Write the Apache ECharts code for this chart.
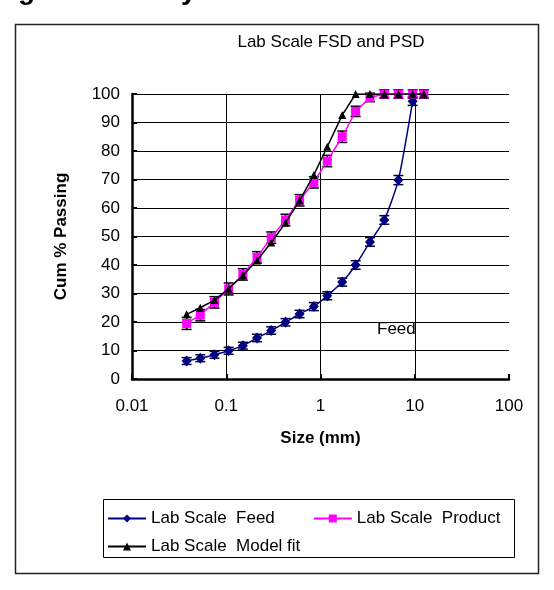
<!DOCTYPE html>
<html>
<head>
<meta charset="utf-8">
<script src="https://cdn.jsdelivr.net/npm/echarts@6/dist/echarts.min.js"></script>
<style>
  html, body { margin: 0; padding: 0; background: #fff; }
  #main { width: 554px; height: 590px; }
</style>
</head>
<body>
<div id="main"></div>
<script>
// sieve sizes (mm)
const sizes = [0.038, 0.053, 0.075, 0.106, 0.15, 0.212, 0.3, 0.425, 0.6, 0.85, 1.18, 1.7, 2.36, 3.35, 4.75, 6.7, 9.5, 12.5];
// cumulative % passing
const feedPassing = [6.3, 7.3, 8.5, 9.9, 11.7, 14.4, 17.0, 19.9, 22.8, 25.4, 29.2, 34.0, 40.0, 48.1, 55.8, 69.8, 97.5];
const productPassing = [19.5, 22.4, 26.9, 31.6, 36.7, 42.7, 49.6, 55.8, 62.7, 69.0, 76.5, 85.0, 93.9, 98.8, 100, 100, 100, 100];
const modelPassing = [22.7, 25.0, 27.7, 31.7, 36.3, 41.6, 47.9, 54.8, 62.6, 71.6, 81.5, 92.6, 100, 100, 100, 100, 100, 100];
// error bar half widths
const feedErr = [1.2, 1.2, 1.2, 1.2, 1.2, 1.3, 1.3, 1.3, 1.3, 1.4, 1.4, 1.4, 1.5, 1.5, 1.5, 1.6, 1.5];
const productErr = [2.1, 2.0, 2.0, 2.1, 2.0, 2.0, 2.0, 2.0, 2.0, 2.0, 2.0, 2.0, 1.8, 1.5, 1.5, 1.5, 1.5, 1.5];

const font = 'Liberation Sans, Arial, sans-serif';

function pairs(ys) {
  return ys.map((y, i) => [sizes[i], y]);
}

function errorBars(ys, errs, color) {
  return {
    type: 'custom',
    silent: true,
    z: 1,
    encode: { x: 0, y: [1, 2] },
    data: ys.map((y, i) => [sizes[i], y - errs[i], y + errs[i]]),
    renderItem: function (params, api) {
      const lo = api.coord([api.value(0), api.value(1)]);
      const hi = api.coord([api.value(0), api.value(2)]);
      const w = 5;
      const style = { stroke: color, lineWidth: 1.5 };
      return {
        type: 'group',
        children: [
          { type: 'line', shape: { x1: lo[0], y1: lo[1], x2: hi[0], y2: hi[1] }, style: style },
          { type: 'line', shape: { x1: lo[0] - w, y1: lo[1], x2: lo[0] + w, y2: lo[1] }, style: style },
          { type: 'line', shape: { x1: hi[0] - w, y1: hi[1], x2: hi[0] + w, y2: hi[1] }, style: style }
        ]
      };
    }
  };
}

const chart = echarts.init(document.getElementById('main'), null, { renderer: 'canvas' });

const legendText = { fontFamily: font, fontSize: 17, color: '#000' };

const option = {
  animation: false,
  backgroundColor: '#fff',
  title: {
    text: 'Lab Scale FSD and PSD',
    left: 326,
    top: 29,
    textAlign: 'center',
    textStyle: { fontFamily: font, fontSize: 17, fontWeight: 'normal', color: '#000' }
  },
  legend: [
    {
      data: ['Lab Scale  Feed', 'Lab Scale  Product'],
      left: 102,
      top: 505,
      itemWidth: 38,
      itemHeight: 10,
      itemGap: 38,
      textStyle: legendText
    },
    {
      data: ['Lab Scale  Model fit'],
      left: 102,
      top: 533,
      itemWidth: 38,
      itemHeight: 10,
      textStyle: legendText
    }
  ],
  grid: { left: 132, right: 45, top: 94, bottom: 211 },
  xAxis: {
    type: 'log',
    logBase: 10,
    min: 0.01,
    max: 100,
    name: 'Size (mm)',
    nameLocation: 'middle',
    nameGap: 51,
    nameTextStyle: { fontFamily: font, fontSize: 17, fontWeight: 'bold', color: '#000' },
    axisLine: { lineStyle: { color: '#000', width: 2.5 } },
    axisTick: { inside: true, length: 5, lineStyle: { color: '#000', width: 2 } },
    axisLabel: { fontFamily: font, fontSize: 17, color: '#000', margin: 19 },
    splitLine: { show: true, showMaxLine: false, lineStyle: { color: '#000', width: 1 } },
    minorTick: { show: false }
  },
  yAxis: {
    type: 'value',
    min: 0,
    max: 100,
    interval: 10,
    name: 'Cum % Passing',
    nameLocation: 'middle',
    nameGap: 62,
    nameTextStyle: { fontFamily: font, fontSize: 17, fontWeight: 'bold', color: '#000' },
    axisLine: { show: true, lineStyle: { color: '#000', width: 2.5 } },
    axisTick: { show: true, inside: true, length: 5, lineStyle: { color: '#000', width: 2 } },
    axisLabel: { fontFamily: font, fontSize: 17, color: '#000', margin: 12 },
    splitLine: { show: true, lineStyle: { color: '#000', width: 1 } }
  },
  graphic: [
    { type: 'rect', silent: true, shape: { x: 15.5, y: 24.5, width: 523, height: 549 },
      style: { fill: null, stroke: '#222', lineWidth: 1.5 } },
    { type: 'rect', silent: true, shape: { x: 103.5, y: 499.5, width: 411, height: 58 },
      style: { fill: null, stroke: '#000', lineWidth: 1 } },
    { type: 'text', silent: true, left: 377, top: 321,
      style: { text: 'Feed', font: '17px ' + font, fill: '#000' } },
    { type: 'text', silent: true, left: 18, top: -23,
      style: { text: 'g', font: 'bold 28px ' + font, fill: '#000' } },
    { type: 'text', silent: true, left: 181, top: -23,
      style: { text: 'y', font: 'bold 28px ' + font, fill: '#000' } }
  ],
  series: [
    {
      name: 'Lab Scale  Feed',
      type: 'line',
      data: pairs(feedPassing),
      smooth: 0.2,
      symbol: 'diamond',
      symbolSize: [10, 11],
      color: '#000080',
      lineStyle: { width: 1.5 },
      z: 3
    },
    {
      name: 'Lab Scale  Product',
      type: 'line',
      data: pairs(productPassing),
      symbol: 'rect',
      symbolSize: 9,
      color: '#ff00ff',
      lineStyle: { width: 1.5 },
      z: 4
    },
    {
      name: 'Lab Scale  Model fit',
      type: 'line',
      data: pairs(modelPassing),
      symbol: 'triangle',
      symbolSize: 8,
      color: '#000',
      lineStyle: { width: 1.5 },
      z: 5
    },
    errorBars(feedPassing, feedErr, '#000033'),
    errorBars(productPassing, productErr, '#000')
  ]
};

chart.setOption(option);
</script>
</body>
</html>
